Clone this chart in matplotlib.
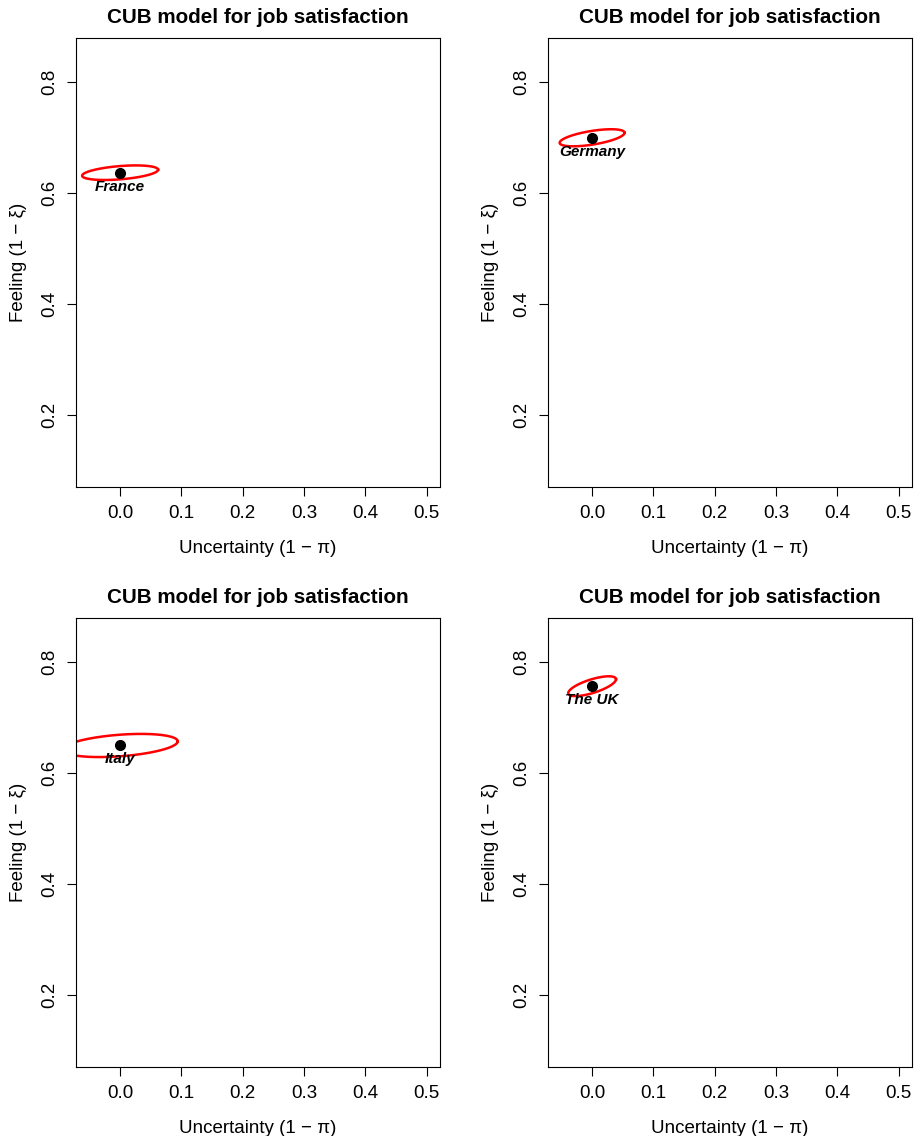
'''
CUB model plots for job satisfaction, four countries.
'''

import matplotlib.pyplot as plt
import numpy as np

plt.rcParams['font.family'] = ['Liberation Sans', 'DejaVu Sans']

# 各国的估计值 (1-pi, 1-xi)
countries = ['France', 'Germany', 'Italy', 'The UK']
uncertainty = [0.0, 0.0, 0.0, 0.0]
feeling = [0.637, 0.700, 0.650, 0.757]

# 置信椭圆参数: x方向半轴, 垂直半厚度, 主轴斜率
ell_ax = [0.062, 0.053, 0.094, 0.039]
ell_by = [0.012, 0.0125, 0.0195, 0.0128]
ell_slope = [0.087, 0.17, 0.08, 0.32]

x_ticks = [0.0, 0.1, 0.2, 0.3, 0.4, 0.5]
y_ticks = [0.2, 0.4, 0.6, 0.8]

W, H = 921, 1136
fig = plt.figure(figsize=(W / 100, H / 100), dpi=100)

# 每个面板的位置 (像素)
panel_left = [76, 548, 76, 548]
panel_bottom = [487, 487, 1067, 1067]
pw, ph = 364, 449

t = np.linspace(0, 2 * np.pi, 300)

for i in range(4):
    ax = fig.add_axes([panel_left[i] / W, 1 - panel_bottom[i] / H, pw / W, ph / H])
    cx, cy = uncertainty[i], feeling[i]
    ex = cx + ell_ax[i] * np.cos(t)
    ey = cy + ell_slope[i] * ell_ax[i] * np.cos(t) + ell_by[i] * np.sin(t)
    ax.plot(ex, ey, color='red', lw=1.8)
    ax.plot(cx, cy, 'o', color='black', markersize=7)
    ax.annotate(countries[i], (cx, cy), xytext=(0, -10), textcoords='offset points',
                ha='center', va='center', fontsize=11, fontweight='bold', fontstyle='italic')

    ax.set_xlim(-0.072, 0.522)
    ax.set_ylim(0.07, 0.88)
    ax.set_xticks(x_ticks)
    ax.set_xticklabels([f'{v:.1f}' for v in x_ticks])
    ax.set_yticks(y_ticks)
    ax.set_yticklabels([f'{v:.1f}' for v in y_ticks], rotation=90, va='center')
    ax.tick_params(direction='out', length=6.5, width=0.8, labelsize=13.5, pad=6.5)
    for s in ax.spines.values():
        s.set_linewidth(0.8)

    ax.set_title('CUB model for job satisfaction', fontsize=14.9, fontweight='bold', pad=10.5)
    ax.set_xlabel('Uncertainty (1 \u2212 \u03c0)', fontsize=13.5, labelpad=13)
    ax.set_ylabel('Feeling (1 \u2212 \u03be)', fontsize=13.5, labelpad=10)

fig.savefig('out.png', dpi=100)
